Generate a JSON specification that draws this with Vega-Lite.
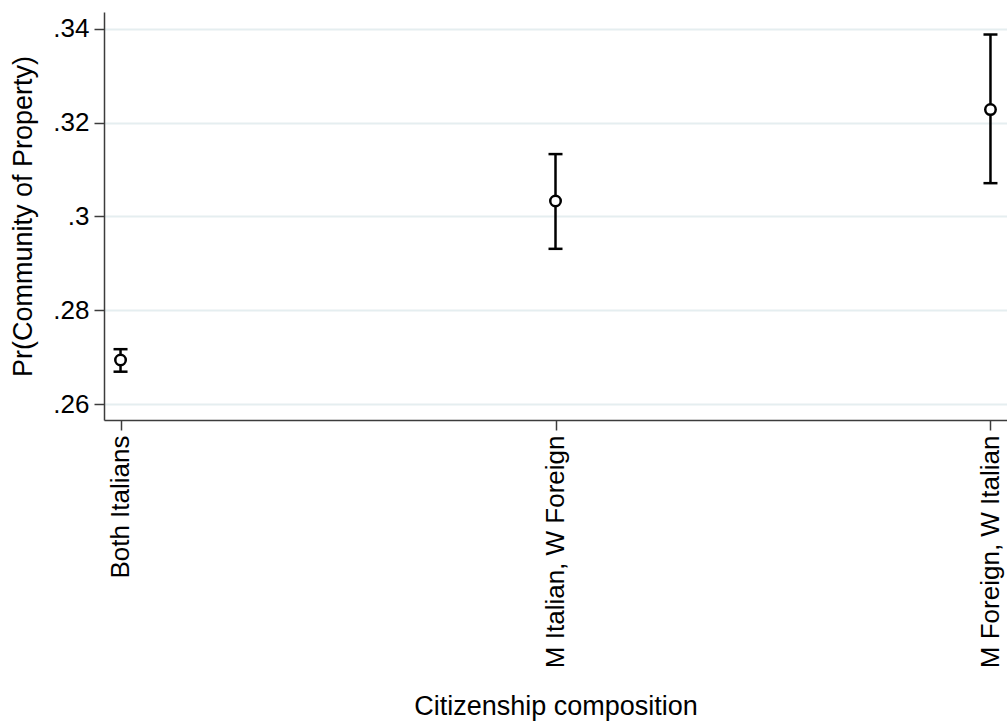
{
  "$schema": "https://vega.github.io/schema/vega-lite/v6.json",
  "width": 903,
  "height": 408,
  "autosize": {"type": "none"},
  "padding": {"left": 104, "top": 12, "right": 0, "bottom": 302},
  "background": "white",
  "config": {
    "view": {"stroke": null},
    "font": "Liberation Sans",
    "axis": {
      "labelFont": "Liberation Sans",
      "titleFont": "Liberation Sans",
      "labelFontSize": 26,
      "titleFontSize": 27,
      "titleFontWeight": "normal",
      "labelColor": "black",
      "titleColor": "black",
      "domainColor": "#3c3c3c",
      "domainWidth": 1.5,
      "tickColor": "#3c3c3c",
      "tickWidth": 1.5,
      "tickSize": 10
    }
  },
  "data": {
    "values": [
      {"cat": "Both Italians", "est": 0.2694, "lo": 0.2669, "hi": 0.2717},
      {"cat": "M Italian, W Foreign", "est": 0.3033, "lo": 0.2931, "hi": 0.3133},
      {"cat": "M Foreign, W Italian", "est": 0.3228, "lo": 0.3071, "hi": 0.3388}
    ]
  },
  "encoding": {
    "x": {
      "field": "cat",
      "type": "nominal",
      "sort": null,
      "scale": {"type": "point", "padding": 0.038},
      "axis": {
        "title": "Citizenship composition",
        "labelAngle": -90,
        "labelPadding": 5,
        "titlePadding": 73,
        "grid": false,
        "labelLimit": 400
      }
    }
  },
  "layer": [
    {
      "mark": {"type": "rule", "strokeWidth": 2.5, "color": "black"},
      "encoding": {
        "y": {
          "field": "lo",
          "type": "quantitative",
          "title": "Pr(Community of Property)",
          "scale": {"domain": [0.2566, 0.3436], "nice": false, "zero": false},
          "axis": {
            "values": [0.26, 0.28, 0.30, 0.32, 0.34],
            "labelExpr": "substring(format(datum.value, '.2~f'), 1)",
            "grid": true,
            "gridColor": "#e5eef0",
            "gridWidth": 2,
            "labelPadding": 5,
            "titlePadding": 15
          }
        },
        "y2": {"field": "hi"}
      }
    },
    {
      "mark": {"type": "tick", "orient": "horizontal", "size": 14, "thickness": 2.5, "color": "black", "opacity": 1},
      "encoding": {"y": {"field": "lo", "type": "quantitative", "title": "Pr(Community of Property)"}}
    },
    {
      "mark": {"type": "tick", "orient": "horizontal", "size": 14, "thickness": 2.5, "color": "black", "opacity": 1},
      "encoding": {"y": {"field": "hi", "type": "quantitative", "title": "Pr(Community of Property)"}}
    },
    {
      "mark": {"type": "point", "shape": "circle", "filled": true, "fill": "white", "stroke": "black", "strokeWidth": 2.5, "size": 110, "opacity": 1},
      "encoding": {"y": {"field": "est", "type": "quantitative", "title": "Pr(Community of Property)"}}
    }
  ]
}
